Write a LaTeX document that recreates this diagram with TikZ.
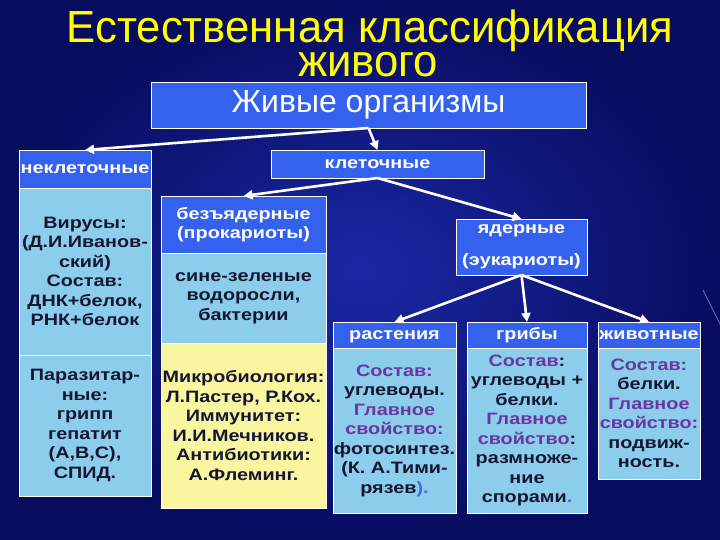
\documentclass[tikz,border=0pt]{standalone}
\usepackage{fontspec}
\setmainfont{Liberation Sans}
\newfontfamily\bx[FakeStretch=1.2]{Liberation Sans}
\newfontfamily\tx[FakeStretch=0.97]{Liberation Sans}
\usetikzlibrary{arrows.meta}
\definecolor{bgA}{RGB}{8,12,95}
\definecolor{bgB}{RGB}{26,40,165}
\definecolor{hdr}{RGB}{52,98,238}
\definecolor{sky}{RGB}{140,205,235}
\definecolor{lyel}{RGB}{250,246,160}
\definecolor{purp}{RGB}{105,55,160}
\definecolor{dk}{RGB}{20,22,50}
\definecolor{ttl}{RGB}{255,255,0}
\definecolor{lbl}{RGB}{60,110,230}
\begin{document}
\begin{tikzpicture}[x=1pt,y=-1pt,
  box/.style={draw=white, line width=0.8pt, inner sep=0pt, outer sep=0pt, align=center},
  hbox/.style={box, fill=hdr, text=white, font=\bx\bfseries\fontsize{16.5}{19.5}\selectfont},
  hline/.style={hbox, text height=8.7pt, text depth=0pt},
  bbox/.style={box, fill=sky, text=dk, font=\bx\bfseries\fontsize{16.5}{19.5}\selectfont},
  ybox/.style={bbox, fill=lyel},
  ttlnode/.style={text=ttl, inner sep=0pt, font=\tx\fontsize{45}{32}\selectfont},
  arr/.style={draw=white, line width=2.6pt, -{Triangle[length=9pt,width=9pt]}}
]
\useasboundingbox (0,0) rectangle (720,540);
\shade[inner color=bgB, outer color=bgA] (0,0) rectangle (720,540);
\draw[draw={rgb,255:red,120;green,110;blue,200}, line width=0.8pt] (703,290) -- (720,324);

\node[ttlnode, anchor=base] (t1) at (370,43) {Естественная классификация};
\node[ttlnode, anchor=base] (t2) at (368,77) {живого};

\node[box, fill=hdr, text=white, font=\fontsize{32}{36}\selectfont, minimum width=435pt, minimum height=46pt] (zhivye) at (368.5,105) {Живые организмы};

\node[hline, minimum width=132pt, minimum height=38pt] (nekl) at (85,169) {неклеточные};
\node[bbox, minimum width=132pt, minimum height=167pt] (virus) at (85,271.5) {Вирусы:\\(Д.И.Иванов-\\ский)\\Состав:\\ДНК+белок,\\РНК+белок};
\node[bbox, minimum width=132pt, minimum height=141pt] (paraz) at (85,425.5) {Паразитар-\\ные:\\грипп\\гепатит\\(А,В,С),\\СПИД.};

\node[hline, minimum width=213pt, minimum height=28pt] (klet) at (377.5,164) {клеточные};

\node[hbox, minimum width=165pt, minimum height=57pt] (bez) at (243.5,224.5) {безъядерные\\(прокариоты)};
\node[bbox, minimum width=165pt, minimum height=90pt] (sine) at (243.5,298) {сине-зеленые\\водоросли,\\бактерии};
\node[ybox, minimum width=165pt, minimum height=165pt] (micro) at (243.5,425.5) {Микробиология:\\Л.Пастер, Р.Кох.\\Иммунитет:\\И.И.Мечников.\\Антибиотики:\\А.Флеминг.};

\node[hbox, minimum width=131pt, minimum height=56pt] (yad) at (521.5,247) {ядерные\\[12pt](эукариоты)};

\node[hline, minimum width=123pt, minimum height=26pt] (rast) at (394.5,335) {растения};
\node[bbox, minimum width=123pt, minimum height=165pt] (rastb) at (394.5,430.5) {\textcolor{purp}{Состав:}\\углеводы.\\\textcolor{purp}{Главное}\\\textcolor{purp}{свойство:}\\фотосинтез.\\(К. А.Тими-\\рязев\textcolor{lbl}{).}};

\node[hline, minimum width=120pt, minimum height=26pt] (grib) at (527,335) {грибы};
\node[bbox, minimum width=120pt, minimum height=165pt] (gribb) at (527,430.5) {\textcolor{purp}{Состав}:\\углеводы +\\белки.\\\textcolor{purp}{Главное}\\\textcolor{purp}{свойство}:\\размноже-\\ние\\спорами\textcolor{lbl}{.}};

\node[hline, minimum width=102pt, minimum height=26pt] (zhiv) at (649,335) {животные};
\node[bbox, minimum width=102pt, minimum height=131pt] (zhivb) at (649,413.5) {\textcolor{purp}{Состав:}\\белки.\\\textcolor{purp}{Главное}\\\textcolor{purp}{свойство:}\\подвиж-\\ность.};

\draw[arr] (zhivye.south) -- (nekl.north);
\draw[arr] (zhivye.south) -- (klet.north);
\draw[arr] (klet.south) -- (bez.north);
\draw[arr] (klet.south) -- (yad.north);
\draw[arr] (yad.south) -- (rast.north);
\draw[arr] (yad.south) -- (grib.north);
\draw[arr] (yad.south) -- (zhiv.north);
\end{tikzpicture}
\end{document}
